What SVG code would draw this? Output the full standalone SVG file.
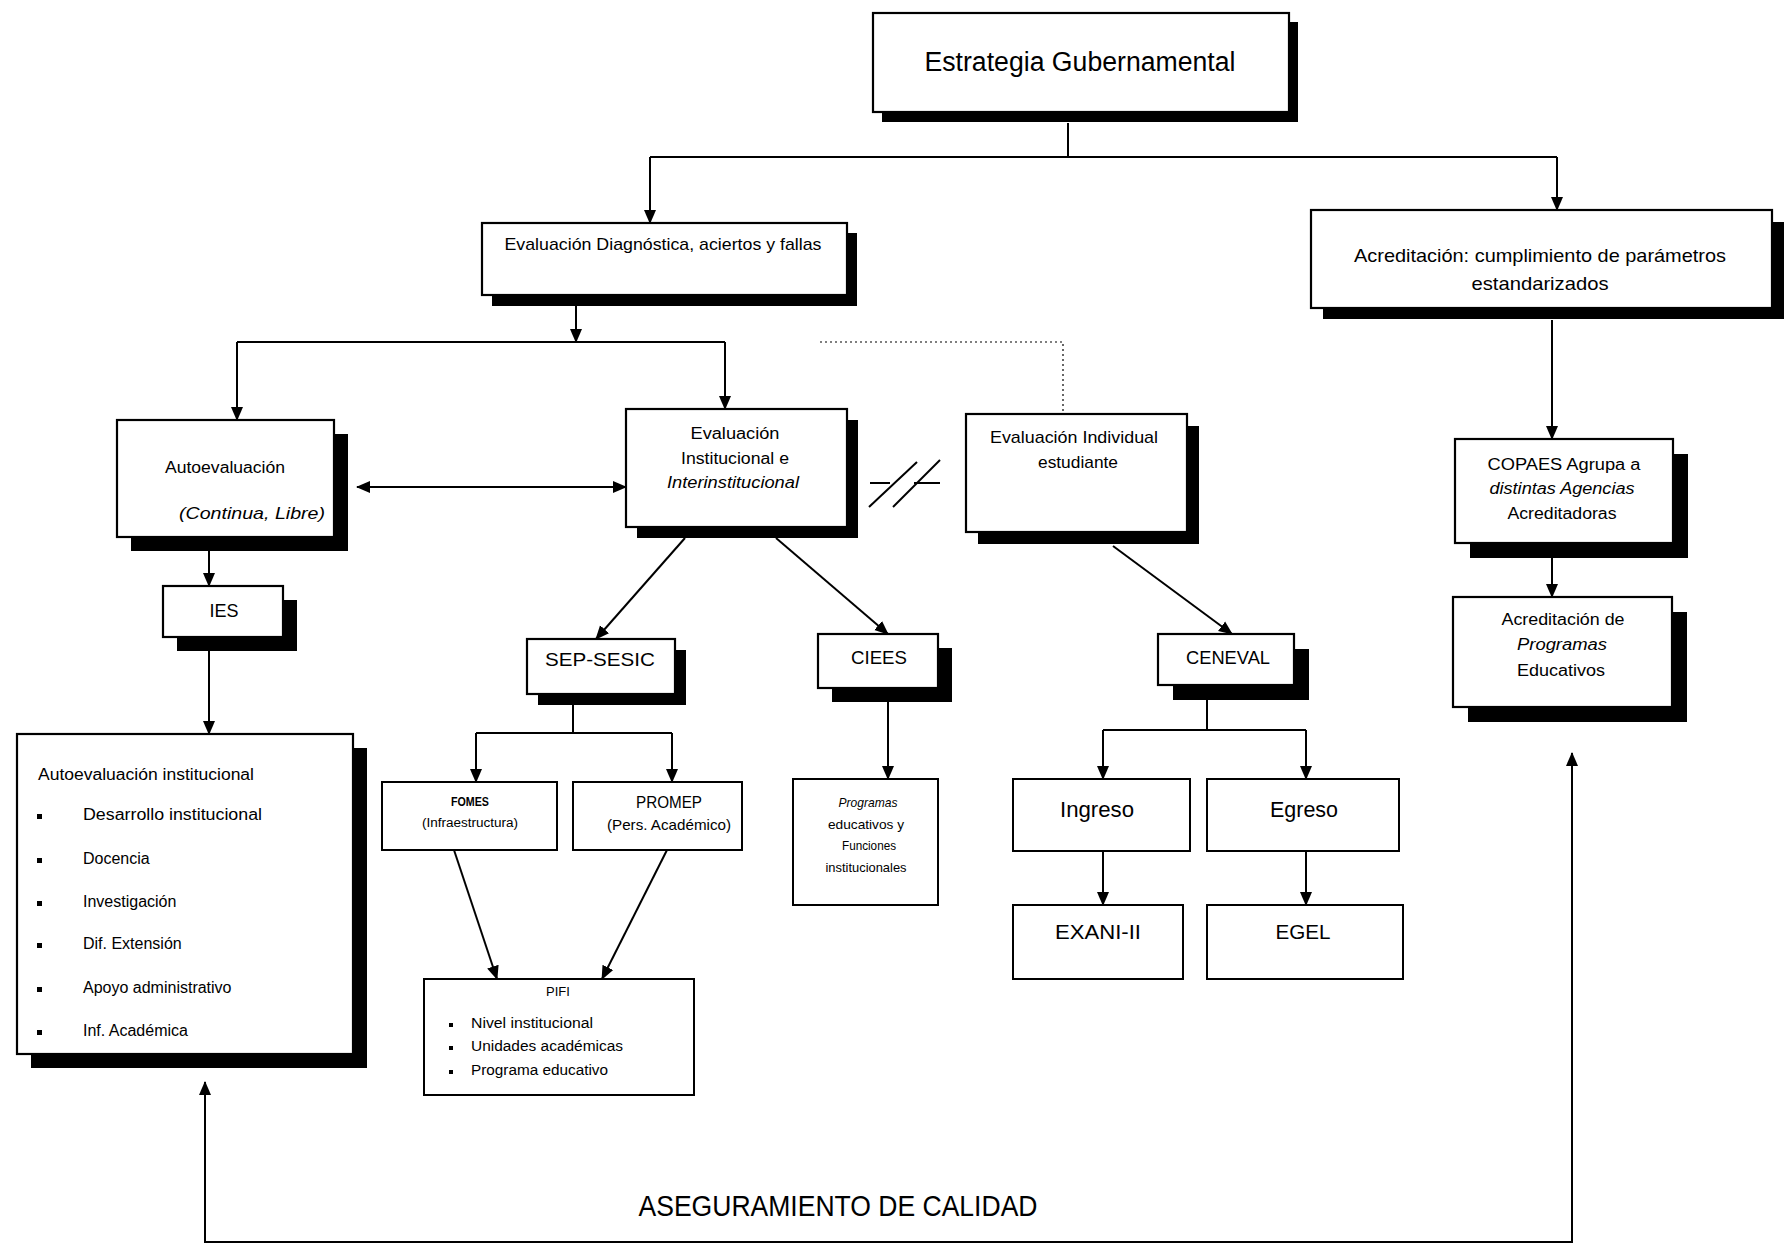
<svg xmlns="http://www.w3.org/2000/svg" width="1789" height="1251" viewBox="0 0 1789 1251">
<style>
.box{fill:#fff;stroke:#000;stroke-width:2.2}
.thin{fill:#fff;stroke:#000;stroke-width:2}
.sh{fill:#000}
.t{font-family:"Liberation Sans",Arial,sans-serif;fill:#000}
.c{text-anchor:middle}
.ln{fill:none;stroke:#000;stroke-width:2}
.dot{fill:none;stroke:#000;stroke-width:1.2;stroke-dasharray:2 3}
</style>
<defs>
<marker id="ah" viewBox="0 0 14 14" refX="13" refY="7" markerWidth="14" markerHeight="14" markerUnits="userSpaceOnUse" orient="auto-start-reverse">
<path d="M0,1 L14,7 L0,13 Z" fill="#000"/>
</marker>
</defs>
<rect width="1789" height="1251" fill="#fff"/>

<g id="connectors">
<polyline class="ln" points="1068,123 1068,157"/>
<polyline class="ln" points="650,157 1557,157"/>
<line class="ln" x1="650" y1="157" x2="650" y2="223" marker-end="url(#ah)"/>
<line class="ln" x1="1557" y1="157" x2="1557" y2="210" marker-end="url(#ah)"/>
<line class="ln" x1="576" y1="295" x2="576" y2="342" marker-end="url(#ah)"/>
<polyline class="ln" points="237,342 725,342"/>
<line class="ln" x1="237" y1="342" x2="237" y2="420" marker-end="url(#ah)"/>
<line class="ln" x1="725" y1="342" x2="725" y2="409" marker-end="url(#ah)"/>
<polyline class="dot" points="820,342 1063,342 1063,414"/>
<line class="ln" x1="357" y1="487" x2="626" y2="487" marker-start="url(#ah)" marker-end="url(#ah)"/>
<g id="break">
<line class="ln" x1="870" y1="483" x2="890" y2="483"/>
<line class="ln" x1="869" y1="507" x2="917" y2="462"/>
<line class="ln" x1="893" y1="507" x2="940" y2="460"/>
<line class="ln" x1="914" y1="483" x2="940" y2="483"/>
</g>
<line class="ln" x1="209" y1="551" x2="209" y2="586" marker-end="url(#ah)"/>
<line class="ln" x1="209" y1="651" x2="209" y2="734" marker-end="url(#ah)"/>
<line class="ln" x1="685" y1="538" x2="596" y2="639" marker-end="url(#ah)"/>
<line class="ln" x1="776" y1="538" x2="888" y2="634" marker-end="url(#ah)"/>
<line class="ln" x1="1113" y1="546" x2="1232" y2="634" marker-end="url(#ah)"/>
<polyline class="ln" points="573,705 573,733"/>
<polyline class="ln" points="476,733 672,733"/>
<line class="ln" x1="476" y1="733" x2="476" y2="782" marker-end="url(#ah)"/>
<line class="ln" x1="672" y1="733" x2="672" y2="782" marker-end="url(#ah)"/>
<line class="ln" x1="454" y1="850" x2="497" y2="979" marker-end="url(#ah)"/>
<line class="ln" x1="667" y1="850" x2="602" y2="979" marker-end="url(#ah)"/>
<line class="ln" x1="888" y1="702" x2="888" y2="779" marker-end="url(#ah)"/>
<polyline class="ln" points="1207,700 1207,730"/>
<polyline class="ln" points="1103,730 1306,730"/>
<line class="ln" x1="1103" y1="730" x2="1103" y2="779" marker-end="url(#ah)"/>
<line class="ln" x1="1306" y1="730" x2="1306" y2="779" marker-end="url(#ah)"/>
<line class="ln" x1="1103" y1="851" x2="1103" y2="905" marker-end="url(#ah)"/>
<line class="ln" x1="1306" y1="851" x2="1306" y2="905" marker-end="url(#ah)"/>
<line class="ln" x1="1552" y1="320" x2="1552" y2="439" marker-end="url(#ah)"/>
<line class="ln" x1="1552" y1="558" x2="1552" y2="597" marker-end="url(#ah)"/>
<polyline class="ln" points="205,1082 205,1242 1572,1242 1572,753" marker-start="url(#ah)" marker-end="url(#ah)"/>
</g>

<g id="estrategia">
<rect class="sh" x="882" y="22" width="416" height="100"/>
<rect class="box" x="873" y="13" width="416" height="99"/>
<text class="t c" x="1080" y="71" font-size="27" textLength="311" lengthAdjust="spacingAndGlyphs">Estrategia Gubernamental</text>
</g>

<g id="eval-diagnostica">
<rect class="sh" x="492" y="233" width="365" height="73"/>
<rect class="box" x="482" y="223" width="365" height="72"/>
<text class="t c" x="663" y="250" font-size="17" textLength="317" lengthAdjust="spacingAndGlyphs">Evaluación Diagnóstica, aciertos y fallas</text>
</g>

<g id="acreditacion">
<rect class="sh" x="1323" y="222" width="461" height="97"/>
<rect class="box" x="1311" y="210" width="461" height="98"/>
<text class="t c" x="1540" y="262" font-size="19" textLength="372" lengthAdjust="spacingAndGlyphs">Acreditación: cumplimiento de parámetros</text>
<text class="t c" x="1540" y="290" font-size="19" textLength="137" lengthAdjust="spacingAndGlyphs">estandarizados</text>
</g>

<g id="autoevaluacion">
<rect class="sh" x="131" y="434" width="217" height="117"/>
<rect class="box" x="117" y="420" width="217" height="117"/>
<text class="t c" x="225" y="473" font-size="16" textLength="120" lengthAdjust="spacingAndGlyphs">Autoevaluación</text>
<text class="t c" x="252" y="519" font-size="17" font-style="italic" textLength="146" lengthAdjust="spacingAndGlyphs">(Continua, Libre)</text>
</g>

<g id="eval-institucional">
<rect class="sh" x="637" y="420" width="221" height="118"/>
<rect class="box" x="626" y="409" width="221" height="118"/>
<text class="t c" x="735" y="439" font-size="16" textLength="89" lengthAdjust="spacingAndGlyphs">Evaluación</text>
<text class="t c" x="735" y="464" font-size="16" textLength="108" lengthAdjust="spacingAndGlyphs">Institucional e</text>
<text class="t c" x="733" y="488" font-size="16" font-style="italic" textLength="132" lengthAdjust="spacingAndGlyphs">Interinstitucional</text>
</g>

<g id="eval-individual">
<rect class="sh" x="978" y="426" width="221" height="118"/>
<rect class="box" x="966" y="414" width="221" height="118"/>
<text class="t c" x="1074" y="443" font-size="17" textLength="168" lengthAdjust="spacingAndGlyphs">Evaluación Individual</text>
<text class="t c" x="1078" y="468" font-size="17" textLength="80" lengthAdjust="spacingAndGlyphs">estudiante</text>
</g>

<g id="ies">
<rect class="sh" x="177" y="600" width="120" height="51"/>
<rect class="box" x="163" y="586" width="120" height="51"/>
<text class="t c" x="224" y="617" font-size="18">IES</text>
</g>

<g id="autoeval-institucional">
<rect class="sh" x="31" y="748" width="336" height="320"/>
<rect class="box" x="17" y="734" width="336" height="320"/>
<text class="t" x="38" y="780" font-size="16" textLength="216" lengthAdjust="spacingAndGlyphs">Autoevaluación institucional</text>
<g class="t" font-size="16">
<rect x="37" y="814" width="5" height="5"/><text x="83" y="820" textLength="179" lengthAdjust="spacingAndGlyphs">Desarrollo institucional</text>
<rect x="37" y="858" width="5" height="5"/><text x="83" y="864">Docencia</text>
<rect x="37" y="901" width="5" height="5"/><text x="83" y="907">Investigación</text>
<rect x="37" y="943" width="5" height="5"/><text x="83" y="949">Dif. Extensión</text>
<rect x="37" y="987" width="5" height="5"/><text x="83" y="993">Apoyo administrativo</text>
<rect x="37" y="1030" width="5" height="5"/><text x="83" y="1036">Inf. Académica</text>
</g>
</g>

<g id="sep-sesic">
<rect class="sh" x="538" y="650" width="148" height="55"/>
<rect class="box" x="527" y="639" width="148" height="55"/>
<text class="t c" x="600" y="666" font-size="19" textLength="110" lengthAdjust="spacingAndGlyphs">SEP-SESIC</text>
</g>

<g id="ciees">
<rect class="sh" x="832" y="648" width="120" height="54"/>
<rect class="box" x="818" y="634" width="120" height="54"/>
<text class="t c" x="879" y="664" font-size="19" textLength="56" lengthAdjust="spacingAndGlyphs">CIEES</text>
</g>

<g id="ceneval">
<rect class="sh" x="1173" y="649" width="136" height="51"/>
<rect class="box" x="1158" y="634" width="136" height="51"/>
<text class="t c" x="1228" y="664" font-size="19" textLength="84" lengthAdjust="spacingAndGlyphs">CENEVAL</text>
</g>

<g id="copaes">
<rect class="sh" x="1470" y="454" width="218" height="104"/>
<rect class="box" x="1455" y="439" width="218" height="104"/>
<text class="t c" x="1564" y="470" font-size="16" textLength="153" lengthAdjust="spacingAndGlyphs">COPAES  Agrupa a</text>
<text class="t c" x="1562" y="494" font-size="16" font-style="italic" textLength="145" lengthAdjust="spacingAndGlyphs">distintas Agencias</text>
<text class="t c" x="1562" y="519" font-size="16" textLength="109" lengthAdjust="spacingAndGlyphs">Acreditadoras</text>
</g>

<g id="acred-programas">
<rect class="sh" x="1468" y="612" width="219" height="110"/>
<rect class="box" x="1453" y="597" width="219" height="110"/>
<text class="t c" x="1563" y="625" font-size="16" textLength="123" lengthAdjust="spacingAndGlyphs">Acreditación de</text>
<text class="t c" x="1562" y="650" font-size="16" font-style="italic" textLength="90" lengthAdjust="spacingAndGlyphs">Programas</text>
<text class="t c" x="1561" y="676" font-size="16" textLength="88" lengthAdjust="spacingAndGlyphs">Educativos</text>
</g>

<g id="fomes">
<rect class="thin" x="382" y="782" width="175" height="68"/>
<text class="t c" x="470" y="806" font-size="12" font-weight="bold" textLength="38" lengthAdjust="spacingAndGlyphs">FOMES</text>
<text class="t c" x="470" y="827" font-size="12" textLength="96" lengthAdjust="spacingAndGlyphs">(Infraestructura)</text>
</g>

<g id="promep">
<rect class="thin" x="573" y="782" width="169" height="68"/>
<text class="t c" x="669" y="808" font-size="16" textLength="66" lengthAdjust="spacingAndGlyphs">PROMEP</text>
<text class="t c" x="669" y="830" font-size="15" textLength="124" lengthAdjust="spacingAndGlyphs">(Pers. Académico)</text>
</g>

<g id="programas-educativos">
<rect class="thin" x="793" y="779" width="145" height="126"/>
<text class="t c" x="868" y="807" font-size="13" font-style="italic" textLength="59" lengthAdjust="spacingAndGlyphs">Programas</text>
<text class="t c" x="866" y="829" font-size="13" textLength="76" lengthAdjust="spacingAndGlyphs">educativos y</text>
<text class="t c" x="869" y="850" font-size="13" textLength="54" lengthAdjust="spacingAndGlyphs">Funciones</text>
<text class="t c" x="866" y="872" font-size="13" textLength="81" lengthAdjust="spacingAndGlyphs">institucionales</text>
</g>

<g id="pifi">
<rect class="thin" x="424" y="979" width="270" height="116"/>
<text class="t c" x="558" y="996" font-size="13">PIFI</text>
<g class="t" font-size="14">
<rect x="449" y="1023" width="4" height="4"/><text x="471" y="1028" textLength="122" lengthAdjust="spacingAndGlyphs">Nivel institucional</text>
<rect x="449" y="1046" width="4" height="4"/><text x="471" y="1051" textLength="152" lengthAdjust="spacingAndGlyphs">Unidades académicas</text>
<rect x="449" y="1070" width="4" height="4"/><text x="471" y="1075" textLength="137" lengthAdjust="spacingAndGlyphs">Programa educativo</text>
</g>
</g>

<g id="ingreso">
<rect class="thin" x="1013" y="779" width="177" height="72"/>
<text class="t c" x="1097" y="817" font-size="22" textLength="74" lengthAdjust="spacingAndGlyphs">Ingreso</text>
</g>

<g id="egreso">
<rect class="thin" x="1207" y="779" width="192" height="72"/>
<text class="t c" x="1304" y="817" font-size="22" textLength="68" lengthAdjust="spacingAndGlyphs">Egreso</text>
</g>

<g id="exani">
<rect class="thin" x="1013" y="905" width="170" height="74"/>
<text class="t c" x="1098" y="939" font-size="21" textLength="86" lengthAdjust="spacingAndGlyphs">EXANI-II</text>
</g>

<g id="egel">
<rect class="thin" x="1207" y="905" width="196" height="74"/>
<text class="t c" x="1303" y="939" font-size="21" textLength="55" lengthAdjust="spacingAndGlyphs">EGEL</text>
</g>

<g id="aseguramiento">
<text class="t c" x="838" y="1216" font-size="29" textLength="399" lengthAdjust="spacingAndGlyphs">ASEGURAMIENTO DE CALIDAD</text>
</g>
</svg>
